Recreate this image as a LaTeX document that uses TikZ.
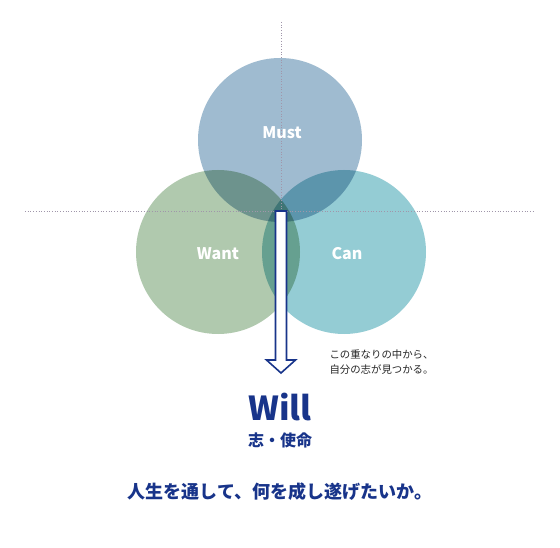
\documentclass[tikz,border=0pt]{standalone}
\usepackage{fontspec}
\setmainfont{Noto Sans CJK JP}
\usetikzlibrary{positioning}
\definecolor{mustc}{RGB}{159,187,208}
\definecolor{wantc}{RGB}{176,201,174}
\definecolor{canc}{RGB}{148,204,212}
\definecolor{navy}{RGB}{24,52,138}
\definecolor{guide}{RGB}{160,150,170}
\tikzset{
  venn/.style={circle, minimum size=164pt, inner sep=0pt, draw=none},
  vlabel/.style={text=white, font=\bfseries\fontsize{16}{16}\selectfont},
  guideline/.style={guide, dotted, line width=0.7pt},
  navytext/.style={text=navy, font=\bfseries}
}
\begin{document}
\begin{tikzpicture}[x=1pt,y=-1pt]
\useasboundingbox (0,0) rectangle (560,548);
\fill[white] (0,0) rectangle (560,548);
% guides
\coordinate (hl) at (25,211);
\coordinate (hr) at (535,211);
\coordinate (vt) at (281,22);
\coordinate (vb) at (281,211);
% circles
\begin{scope}[blend group=multiply]
\node[venn, fill=wantc] (want) at (218,252) {};
\node[venn, fill=canc] (can) at (344,252) {};
\node[venn, fill=mustc] (must) at (280,140) {};
\end{scope}
\draw[guideline] (hl) -- (hr);
\draw[guideline] (vt) -- (vb);
\node[vlabel] (mustl) at (282,133) {Must};
\node[vlabel] (wantl) at (218,254) {Want};
\node[vlabel] (canl) at (347,254) {Can};
% arrow
\coordinate (atop) at (281,211);
\draw[navy, line width=1.6pt, fill=white, line join=miter]
  (275.5,211) -- (286.5,211) -- (286.5,360) -- (295.5,360) -- (281,373)
  -- (266.5,360) -- (275.5,360) -- cycle;
% texts
\node[anchor=west, align=left, font=\fontsize{10.4}{15}\selectfont, text=black!85] (note) at (326,362)
  {この重なりの中から、\\自分の志が見つかる。};
\node[navytext, font=\bfseries\fontsize{33}{33}\selectfont] (will) at (280,407) {Will};
\node[navytext, font=\bfseries\fontsize{16}{16}\selectfont] (kokoro) at (280,440) {志・使命};
\node[navytext, font=\bfseries\fontsize{18}{18}\selectfont] (jinsei) at (280,492) {人生を通して、何を成し遂げたいか。};
\end{tikzpicture}
\end{document}
